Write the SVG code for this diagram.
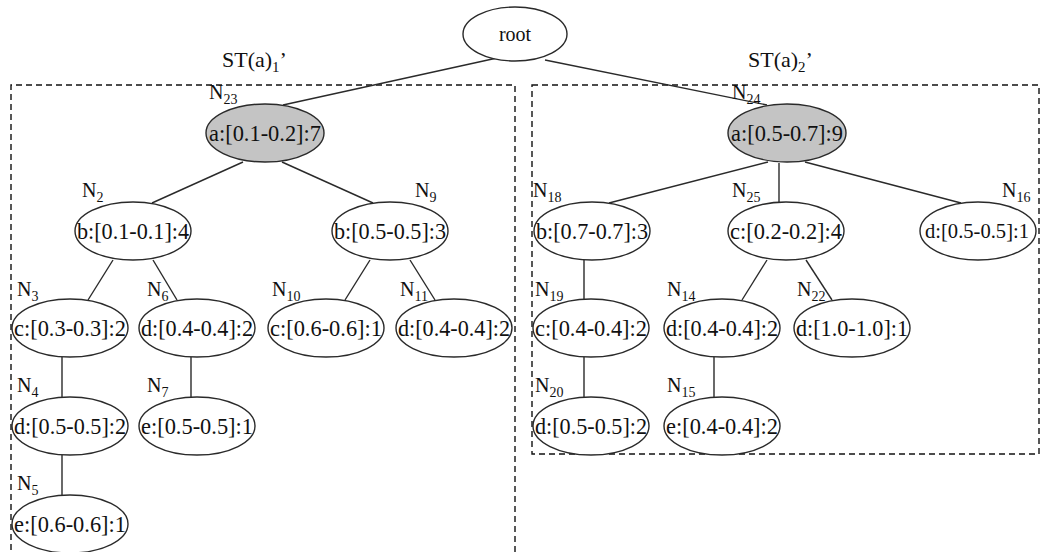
<svg xmlns="http://www.w3.org/2000/svg" width="1042" height="552" viewBox="0 0 1042 552">
  <style>
    .node ellipse { fill: #ffffff; stroke: #2a2a2a; stroke-width: 1.4; }
    .node.hl ellipse { fill: #c4c4c4; }
    .node text.v { font-family: "Liberation Serif", serif; font-size: 24px; text-anchor: middle; fill: #111111; }
    .node text.n { font-family: "Liberation Serif", serif; font-size: 20px; fill: #111111; }
    .sub { font-size: 14px; }
    .edges line { stroke: #2a2a2a; stroke-width: 1.4; }
    .box { fill: none; stroke: #111111; stroke-width: 1.4; stroke-dasharray: 6 4; }
    .st { font-family: "Liberation Serif", serif; font-size: 22px; fill: #111111; }
    .stsub { font-size: 15px; }
  </style>
  <rect width="1042" height="552" fill="#ffffff"/>

  <!-- subtree frames -->
  <g id="frames">
    <path class="box" d="M11,560 V85 H515 V560"/>
    <path class="box" d="M532,85 H1039 V454 H532 Z"/>
    <text class="st" x="222" y="67">ST(a)<tspan class="stsub" dy="5">1</tspan><tspan dy="-5">’</tspan></text>
    <text class="st" x="748" y="67">ST(a)<tspan class="stsub" dy="5">2</tspan><tspan dy="-5">’</tspan></text>
  </g>

  <!-- connectors -->
  <g class="edges" id="edges">
    <line x1="497" y1="58" x2="283" y2="105"/>
    <line x1="545" y1="60" x2="767" y2="105"/>
    <line x1="243" y1="162" x2="152" y2="203"/>
    <line x1="282" y1="162" x2="373" y2="203"/>
    <line x1="768" y1="162" x2="609" y2="203"/>
    <line x1="779" y1="163" x2="779" y2="203"/>
    <line x1="805" y1="162" x2="961" y2="203"/>
    <line x1="113" y1="260" x2="88" y2="300"/>
    <line x1="153" y1="260" x2="177" y2="300"/>
    <line x1="370" y1="260" x2="345" y2="300"/>
    <line x1="410" y1="260" x2="435" y2="300"/>
    <line x1="62" y1="357" x2="62" y2="397"/>
    <line x1="191" y1="357" x2="191" y2="397"/>
    <line x1="62" y1="455" x2="62" y2="495"/>
    <line x1="584" y1="260" x2="584" y2="300"/>
    <line x1="767" y1="260" x2="742" y2="300"/>
    <line x1="806" y1="260" x2="832" y2="300"/>
    <line x1="584" y1="357" x2="584" y2="397"/>
    <line x1="714" y1="357" x2="714" y2="397"/>
  </g>

  <!-- nodes -->
  <g class="node" id="root">
    <ellipse cx="515" cy="34" rx="52" ry="27"/>
    <text class="v" x="515" y="41" style="font-size:20px">root</text>
  </g>
  <g class="node hl" id="N23">
    <ellipse cx="265" cy="133" rx="59" ry="29"/>
    <text class="v" x="265" y="141" textLength="112" lengthAdjust="spacingAndGlyphs">a:[0.1-0.2]:7</text>
    <text class="n" x="209" y="99">N<tspan class="sub" dy="5">23</tspan></text>
  </g>
  <g class="node hl" id="N24">
    <ellipse cx="787" cy="133" rx="59" ry="29"/>
    <text class="v" x="787" y="141" textLength="112" lengthAdjust="spacingAndGlyphs">a:[0.5-0.7]:9</text>
    <text class="n" x="732" y="99">N<tspan class="sub" dy="5">24</tspan></text>
  </g>
  <g class="node" id="N2">
    <ellipse cx="133" cy="231" rx="58" ry="29"/>
    <text class="v" x="133" y="239" textLength="112" lengthAdjust="spacingAndGlyphs">b:[0.1-0.1]:4</text>
    <text class="n" x="82" y="197">N<tspan class="sub" dy="5">2</tspan></text>
  </g>
  <g class="node" id="N9">
    <ellipse cx="390" cy="231" rx="58" ry="29"/>
    <text class="v" x="390" y="239" textLength="112" lengthAdjust="spacingAndGlyphs">b:[0.5-0.5]:3</text>
    <text class="n" x="415" y="197">N<tspan class="sub" dy="5">9</tspan></text>
  </g>
  <g class="node" id="N18">
    <ellipse cx="592" cy="231" rx="58" ry="29"/>
    <text class="v" x="592" y="239" textLength="112" lengthAdjust="spacingAndGlyphs">b:[0.7-0.7]:3</text>
    <text class="n" x="533" y="197">N<tspan class="sub" dy="5">18</tspan></text>
  </g>
  <g class="node" id="N25">
    <ellipse cx="786" cy="231" rx="58" ry="29"/>
    <text class="v" x="786" y="239" textLength="112" lengthAdjust="spacingAndGlyphs">c:[0.2-0.2]:4</text>
    <text class="n" x="732" y="197">N<tspan class="sub" dy="5">25</tspan></text>
  </g>
  <g class="node" id="N16">
    <ellipse cx="978" cy="231" rx="58" ry="29"/>
    <text class="v" x="977" y="238" style="font-size:22px" textLength="104" lengthAdjust="spacingAndGlyphs">d:[0.5-0.5]:1</text>
    <text class="n" x="1002" y="197">N<tspan class="sub" dy="5">16</tspan></text>
  </g>
  <g class="node" id="N3">
    <ellipse cx="70" cy="328" rx="58" ry="29"/>
    <text class="v" x="70" y="336" textLength="112" lengthAdjust="spacingAndGlyphs">c:[0.3-0.3]:2</text>
    <text class="n" x="17" y="296">N<tspan class="sub" dy="5">3</tspan></text>
  </g>
  <g class="node" id="N6">
    <ellipse cx="197" cy="328" rx="58" ry="29"/>
    <text class="v" x="197" y="336" textLength="112" lengthAdjust="spacingAndGlyphs">d:[0.4-0.4]:2</text>
    <text class="n" x="147" y="296">N<tspan class="sub" dy="5">6</tspan></text>
  </g>
  <g class="node" id="N10">
    <ellipse cx="326" cy="328" rx="58" ry="29"/>
    <text class="v" x="326" y="336" textLength="112" lengthAdjust="spacingAndGlyphs">c:[0.6-0.6]:1</text>
    <text class="n" x="272" y="296">N<tspan class="sub" dy="5">10</tspan></text>
  </g>
  <g class="node" id="N11">
    <ellipse cx="454" cy="328" rx="58" ry="29"/>
    <text class="v" x="454" y="336" textLength="112" lengthAdjust="spacingAndGlyphs">d:[0.4-0.4]:2</text>
    <text class="n" x="400" y="296">N<tspan class="sub" dy="5">11</tspan></text>
  </g>
  <g class="node" id="N19">
    <ellipse cx="591" cy="328" rx="58" ry="29"/>
    <text class="v" x="591" y="336" textLength="112" lengthAdjust="spacingAndGlyphs">c:[0.4-0.4]:2</text>
    <text class="n" x="535" y="296">N<tspan class="sub" dy="5">19</tspan></text>
  </g>
  <g class="node" id="N14">
    <ellipse cx="722" cy="328" rx="58" ry="29"/>
    <text class="v" x="722" y="336" textLength="112" lengthAdjust="spacingAndGlyphs">d:[0.4-0.4]:2</text>
    <text class="n" x="667" y="296">N<tspan class="sub" dy="5">14</tspan></text>
  </g>
  <g class="node" id="N22">
    <ellipse cx="852" cy="328" rx="58" ry="29"/>
    <text class="v" x="852" y="336" textLength="112" lengthAdjust="spacingAndGlyphs">d:[1.0-1.0]:1</text>
    <text class="n" x="797" y="296">N<tspan class="sub" dy="5">22</tspan></text>
  </g>
  <g class="node" id="N4">
    <ellipse cx="70" cy="426" rx="58" ry="29"/>
    <text class="v" x="70" y="434" textLength="112" lengthAdjust="spacingAndGlyphs">d:[0.5-0.5]:2</text>
    <text class="n" x="17" y="392">N<tspan class="sub" dy="5">4</tspan></text>
  </g>
  <g class="node" id="N7">
    <ellipse cx="197" cy="426" rx="58" ry="29"/>
    <text class="v" x="197" y="434" textLength="112" lengthAdjust="spacingAndGlyphs">e:[0.5-0.5]:1</text>
    <text class="n" x="147" y="392">N<tspan class="sub" dy="5">7</tspan></text>
  </g>
  <g class="node" id="N20">
    <ellipse cx="591" cy="426" rx="58" ry="29"/>
    <text class="v" x="591" y="434" textLength="112" lengthAdjust="spacingAndGlyphs">d:[0.5-0.5]:2</text>
    <text class="n" x="535" y="392">N<tspan class="sub" dy="5">20</tspan></text>
  </g>
  <g class="node" id="N15">
    <ellipse cx="722" cy="426" rx="58" ry="29"/>
    <text class="v" x="722" y="434" textLength="112" lengthAdjust="spacingAndGlyphs">e:[0.4-0.4]:2</text>
    <text class="n" x="667" y="392">N<tspan class="sub" dy="5">15</tspan></text>
  </g>
  <g class="node" id="N5">
    <ellipse cx="70" cy="524" rx="58" ry="29"/>
    <text class="v" x="70" y="532" textLength="112" lengthAdjust="spacingAndGlyphs">e:[0.6-0.6]:1</text>
    <text class="n" x="17" y="490">N<tspan class="sub" dy="5">5</tspan></text>
  </g>
</svg>
